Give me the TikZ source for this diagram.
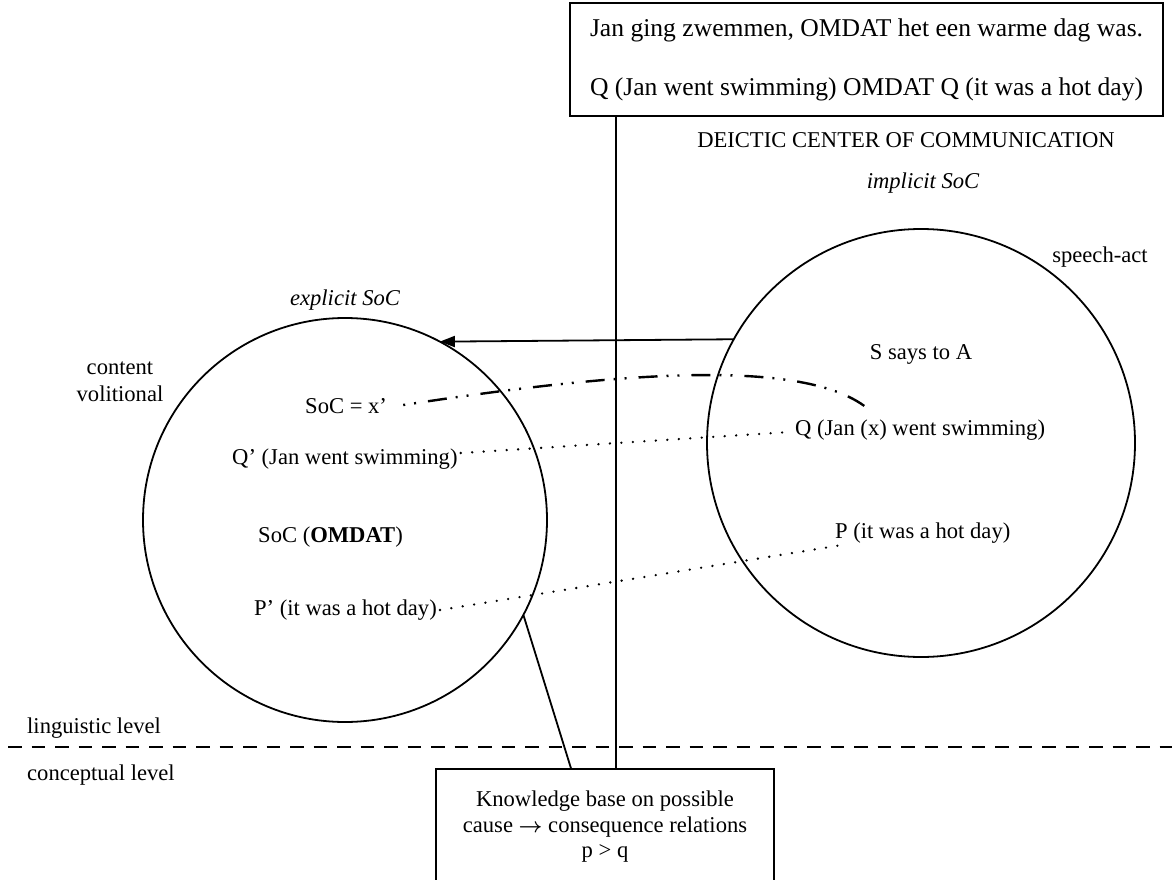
\documentclass[tikz,border=0pt]{standalone}
\usepackage{fontspec}
\setmainfont{Liberation Serif}
\usetikzlibrary{arrows.meta,calc}
\begin{document}
\begin{tikzpicture}[x=1pt,y=-1pt,
  txt/.style={font=\fontsize{22.6}{25.5}\selectfont, inner sep=0pt},
  ring/.style={circle, draw, line width=1.8pt, inner sep=0pt, outer sep=0pt},
  frame/.style={draw, line width=1.8pt, outer sep=0pt},
  link/.style={line width=1.8pt},
  dotline/.style={line width=2.6pt, line cap=round, dash pattern=on 0pt off 11.5pt},
  dashdotdot/.style={line width=2.4pt, dash pattern=on 19pt off 9pt on 2pt off 9pt on 2pt off 12pt, dash phase=28pt},
  levelline/.style={line width=2pt, dash pattern=on 13.5pt off 10pt},
]
\useasboundingbox (0,0) rectangle (1172,880);

% the two domains
\node[ring, minimum size=428pt] (rc) at (921,443) {};
\node[ring, minimum size=404pt] (lc) at (345,520) {};

% utterance box and knowledge base
\node[frame, anchor=north west, minimum width=588pt, minimum height=113pt,
      align=left, inner xsep=20pt, inner ysep=0pt,
      font=\fontsize{25.6}{27}\selectfont] (tb) at (570,3)
  {Jan ging zwemmen, OMDAT het een warme dag was.\\[32pt]Q (Jan went swimming) OMDAT Q (it was a hot day)};
\node[frame, txt, anchor=north, minimum width=338pt, minimum height=116pt, align=center] (kb) at (605,769)
  {Knowledge base on possible\\cause {\boldmath$\rightarrow$} consequence relations\\p > q};

% labels
\node[txt, anchor=base] (deictic) at (906,147) {DEICTIC CENTER OF COMMUNICATION};
\node[txt, anchor=base] (impl) at (923,188) {\itshape implicit SoC};
\node[txt, anchor=base] (speech) at (1100,262) {speech-act};
\node[txt, anchor=base] (expl) at (345,305) {\itshape explicit SoC};
\node[txt, anchor=base] (cont) at (120,374) {content};
\node[txt, anchor=base] (vol) at (120,401) {volitional};
\node[txt, anchor=base] (ssays) at (921,359) {S says to A};
\node[txt, anchor=base west] (socx) at (305,413) {SoC = x’};
\node[txt, anchor=base west] (qp) at (232,464) {Q’ (Jan went swimming)};
\node[txt, anchor=base west] (q) at (795,435) {Q (Jan (x) went swimming)};
\node[txt, anchor=base west] (soc) at (258,542) {SoC (\textbf{OMDAT})};
\node[txt, anchor=base west] (p) at (835,538) {P (it was a hot day)};
\node[txt, anchor=base east] (pp) at (437,615) {P’ (it was a hot day)};
\node[txt, anchor=base west] (ling) at (27,733) {linguistic level};
\node[txt, anchor=base west] (conc) at (27,780) {conceptual level};

% boundary between the levels
\coordinate (lvlL) at (8,747);
\coordinate (lvlR) at (1172,747);
\draw[levelline] (lvlL) -- (lvlR);

% deictic axis
\coordinate (axis) at ([xshift=46pt]tb.south west);
\draw[link] (axis) -- (axis |- kb.north);

% connectors
\draw[link, -{Triangle[length=15pt,width=11pt]}] (rc.151.5) -- (lc.62.4);
\draw[link] (lc.332.4) -- ($(kb.north west)!0.4!(kb.north east)$);

\draw[dashdotdot] ([shift={(16pt,8pt)}]socx.base east)
  .. controls (600,375) and (800,355) .. ([shift={(72pt,27pt)}]q.base west);
\draw[dotline] ([shift={(3pt,11pt)}]qp.base east) -- ([shift={(-5pt,3pt)}]q.base west);
\draw[dotline] ([shift={(3pt,5pt)}]pp.base east) -- ([shift={(7pt,-7pt)}]p.base west);
\end{tikzpicture}
\end{document}
